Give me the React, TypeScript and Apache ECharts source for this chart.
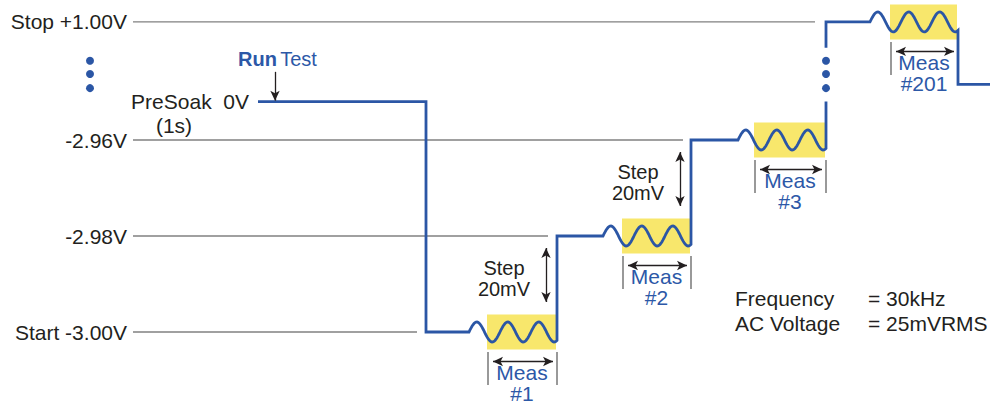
import { useEffect, useRef } from "react";
import * as echarts from "echarts";

// ---- Data (display units: x = time units, y = mV above the -3.00V start level; axis broken above -2.96V) ----
const levelLabels = ["Start -3.00V", "-2.98V", "-2.96V", "Stop +1.00V"];
const levelValues = [0, 20, 40, 64.6];
const levelLineEnds = [417, 548, 683, 815];

const presoakLabel = "PreSoak\u00a0\u00a00V";
const presoakNote = "(1s)";
const presoakLevel = 48;
const presoakSpan = [258, 426];
const finalLevel = 51.6;
const finalEnd = 990;

const stepEnds = [557, 691, 826, 958];
const boxStarts = [487, 622, 754, 890];
const measNames = ["#1", "#2", "#3", "#201"];
const stepLabel = "Step\n20mV";
const runLabel = ["Run", "Test"];

const breakGap = [48, 59.2];
const ellipsisY = [56.5, 53.75, 50.8];
const ellipsisX = [90, 826];

const infoLabels = ["Frequency", "AC Voltage"];
const infoValues = ["= 30kHz", "= 25mVRMS"];

// ---- Drawing constants ----
const PX = 4.8; // pixels per display unit
const WAVE_LEN = 88;
const WAVE_PERIOD = 31;
const WAVE_AMP = 10 / PX;
const BOX_HALF = 17.5 / PX;
const BLUE = "#2b56a5";
const TEXT_BLUE = "#2c58a7";
const INK = "#231f20";
const FONT = "'Liberation Sans', Arial, Helvetica, sans-serif";

function wave(level: number, end: number): number[][] {
  const start = end - WAVE_LEN;
  const pts: number[][] = [[start, level]];
  for (let t = start + 1; t <= end; t += 1) {
    pts.push([t, level + WAVE_AMP * Math.sin((2 * Math.PI * (t - start)) / WAVE_PERIOD)]);
  }
  return pts;
}

function buildOption() {
  const partA: number[][] = [
    [presoakSpan[0], presoakLevel],
    [presoakSpan[1], presoakLevel],
    [presoakSpan[1], levelValues[0]],
  ];
  for (let i = 0; i < 3; i++) {
    partA.push(...wave(levelValues[i], stepEnds[i]));
    partA.push([stepEnds[i], i < 2 ? levelValues[i + 1] : breakGap[0]]);
  }
  const partB: number[][] = [
    [stepEnds[2], breakGap[1]],
    [stepEnds[2], levelValues[3]],
    ...wave(levelValues[3], stepEnds[3]),
    [stepEnds[3], finalLevel],
    [finalEnd, finalLevel],
  ];

  const series: any[] = [];

  // gray level reference lines
  levelValues.forEach((v, i) => {
    series.push({
      type: "line",
      data: [
        [133, v],
        [levelLineEnds[i], v],
      ],
      symbol: "none",
      silent: true,
      lineStyle: { color: "#808080", width: 1.4 },
      z: 1,
    });
  });

  // measurement brackets
  stepEnds.forEach((end, i) => {
    const L = levelValues[i];
    const xs = i < 3 ? [boxStarts[i] + 1, end] : [boxStarts[i] + 1];
    xs.forEach((x) => {
      series.push({
        type: "line",
        data: [
          [x, L - 20 / PX],
          [x, L - 53 / PX],
        ],
        symbol: "none",
        silent: true,
        lineStyle: { color: "#555", width: 1.2 },
        z: 1,
      });
    });
  });

  const boxes = stepEnds.map((end, i) => [
    { coord: [boxStarts[i], levelValues[i] - BOX_HALF] },
    { coord: [end - 1, levelValues[i] + BOX_HALF] },
  ]);

  const arrows: any[] = [];
  arrows.push([
    { coord: [275, 54.2], symbol: "none" },
    { coord: [275, presoakLevel + 0.2], symbol: "arrow" },
  ]);
  for (let i = 0; i < 2; i++) {
    const x = stepEnds[i] - 11;
    arrows.push([
      { coord: [x, levelValues[i] + 30 / PX], symbol: "arrow" },
      { coord: [x, levelValues[i] + 84 / PX], symbol: "arrow" },
    ]);
  }
  stepEnds.forEach((end, i) => {
    const y = levelValues[i] - 29.5 / PX;
    arrows.push([
      { coord: [boxStarts[i] + 6, y], symbol: "arrow" },
      { coord: [end - 4, y], symbol: "arrow" },
    ]);
  });

  // waveform
  series.push({
    type: "line",
    data: partA,
    symbol: "none",
    silent: true,
    lineStyle: { color: BLUE, width: 2.8, join: "miter" },
    z: 3,
    markArea: {
      silent: true,
      itemStyle: { color: "#f8e76c" },
      data: boxes,
      z: 0,
    },
  });
  series.push({
    type: "line",
    data: partB,
    symbol: "none",
    silent: true,
    lineStyle: { color: BLUE, width: 2.8, join: "miter" },
    z: 3,
  });

  // arrows
  series.push({
    type: "line",
    data: [[133, -15]],
    symbol: "none",
    silent: true,
    lineStyle: { width: 0 },
    markLine: {
      silent: true,
      symbolSize: [7, 10],
      label: { show: false },
      lineStyle: { color: INK, width: 1.3, type: "solid" },
      data: arrows,
    },
  });

  // ellipsis dots
  const dots: number[][] = [];
  ellipsisX.forEach((x) => ellipsisY.forEach((y) => dots.push([x, y])));
  series.push({
    type: "scatter",
    data: dots,
    symbol: "circle",
    symbolSize: 8,
    clip: false,
    silent: true,
    itemStyle: { color: BLUE, opacity: 1 },
    z: 4,
  });

  // annotations
  const base = { fontFamily: FONT, fontSize: 21, color: INK, textBorderWidth: 0, opacity: 1 };
  const ann: any[] = [];
  ann.push({
    value: [presoakSpan[0], presoakLevel],
    label: { ...base, position: "left", distance: 9, formatter: presoakLabel },
  });
  ann.push({
    value: [174, presoakLevel - 24 / PX],
    label: { ...base, position: "inside", formatter: presoakNote },
  });
  ann.push({
    value: [277.5, 56.9],
    label: {
      position: "inside",
      textBorderWidth: 0,
      opacity: 1,
      formatter: `{b|${runLabel[0]}} {r|${runLabel[1]}}`,
      rich: {
        b: { fontFamily: FONT, fontSize: 20, fontWeight: "bold", color: TEXT_BLUE },
        r: { fontFamily: FONT, fontSize: 20, color: TEXT_BLUE },
      },
    },
  });
  for (let i = 0; i < 2; i++) {
    ann.push({
      value: [stepEnds[i] - 53, levelValues[i] + 54 / PX],
      label: { ...base, fontSize: 20, position: "inside", lineHeight: 21, formatter: stepLabel },
    });
  }
  stepEnds.forEach((end, i) => {
    ann.push({
      value: [(boxStarts[i] + end) / 2, levelValues[i] - 51 / PX],
      label: {
        ...base,
        color: TEXT_BLUE,
        position: "inside",
        lineHeight: 21,
        formatter: `Meas\n${measNames[i]}`,
      },
    });
  });
  series.push({
    type: "scatter",
    data: ann,
    symbolSize: 0,
    silent: true,
    clip: false,
    itemStyle: { opacity: 1 },
    label: { show: true },
    z: 5,
  });

  const graphic: any[] = [];
  infoLabels.forEach((t, i) => {
    const y = 298 + i * 25;
    graphic.push({
      type: "text",
      x: 735,
      y,
      style: { text: t, fontFamily: FONT, fontSize: 21, fill: INK, verticalAlign: "middle", align: "left" },
    });
    graphic.push({
      type: "text",
      x: 868,
      y,
      style: { text: infoValues[i], fontFamily: FONT, fontSize: 21, fill: INK, verticalAlign: "middle", align: "left" },
    });
  });

  return {
    animation: false,
    backgroundColor: "#ffffff",
    grid: { left: 133, right: 0, top: 0.8, bottom: 1, containLabel: false },
    xAxis: {
      type: "value",
      min: 133,
      max: 990,
      show: false,
    },
    yAxis: {
      type: "value",
      min: -15,
      max: 69,
      axisLine: { show: false },
      axisTick: { show: false },
      splitLine: { show: false },
      axisLabel: {
        show: true,
        customValues: levelValues,
        margin: 6,
        fontFamily: FONT,
        fontSize: 21,
        color: INK,
        formatter: (v: number) => {
          let best = 0;
          levelValues.forEach((lv, i) => {
            if (Math.abs(lv - v) < Math.abs(levelValues[best] - v)) best = i;
          });
          return levelLabels[best];
        },
      },
    },
    graphic,
    series,
  };
}

export default function App() {
  const ref = useRef<HTMLDivElement>(null);
  useEffect(() => {
    if (!ref.current) return;
    const chart = echarts.init(ref.current, undefined, { renderer: "svg" });
    chart.setOption(buildOption() as any);
    return () => chart.dispose();
  }, []);
  return (
    <div
      ref={ref}
      style={{ position: "fixed", left: 0, top: 0, width: 990, height: 405, background: "#fff" }}
    />
  );
}
